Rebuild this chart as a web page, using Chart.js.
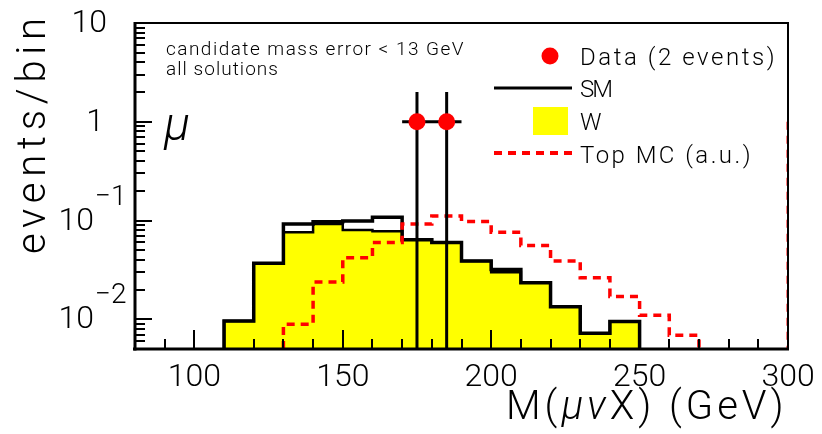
<!DOCTYPE html>
<html>
<head>
<meta charset="utf-8">
<script src="https://cdn.jsdelivr.net/npm/chart.js@4.4.1/dist/chart.umd.min.js"></script>
<style>
    body { margin: 0; background: #fff; }
    #wrap { width: 822px; height: 434px; }
</style>
</head>
<body>
<div id="wrap"><canvas id="massChart" width="822" height="434"></canvas></div>
<script>
// histogram bins (lower edges, 10 GeV wide)
const binWidth = 10;
const smBinLow = [110, 120, 130, 140, 150, 160, 170, 180, 190, 200, 210, 220, 230, 240];
const smValues = [0.0096, 0.037, 0.092, 0.097, 0.099, 0.108, 0.064, 0.060, 0.039, 0.032, 0.0235, 0.0134, 0.0072, 0.0095];
const wValues  = [0.0096, 0.037, 0.076, 0.092, 0.080, 0.078, 0.064, 0.060, 0.039, 0.030, 0.0235, 0.0134, 0.0072, 0.0095];

const topBinLow = [130, 140, 150, 160, 170, 180, 190, 200, 210, 220, 230, 240, 250, 260];
const topValues = [0.0089, 0.0238, 0.042, 0.060, 0.092, 0.111, 0.098, 0.076, 0.056, 0.039, 0.0264, 0.017, 0.011, 0.0069];
const topEdge = [{x: 300, y: 1}, {x: 300, y: 0.005}];

// data: 2 events
const dataMass = [175, 185];
const dataCounts = [1, 1];
const dataErrUp = [2.0, 2.0];

const xMin = 80, xMax = 300;
const yMin = 0.005, yMax = 10;
const xTickLabels = [100, 150, 200, 250, 300];
const yTickExponents = [1, 0, -1, -2];

const FONT = 'Roboto, Lato, sans-serif';
const INK = '#000';

function histSteps(lows, vals) {
    const pts = [{x: lows[0], y: yMin}];
    lows.forEach((x, i) => pts.push({x: x, y: vals[i]}));
    pts.push({x: lows[lows.length - 1] + binWidth, y: yMin});
    return pts;
}

// error bars as broken line segments
const errPts = [];
dataMass.forEach((m, i) => {
    errPts.push({x: m, y: yMin}, {x: m, y: dataErrUp[i]}, {x: m, y: null});
    errPts.push({x: m - binWidth / 2, y: dataCounts[i]}, {x: m + binWidth / 2, y: dataCounts[i]}, {x: m, y: null});
});

function fitText(ctx, text, x, y, width, align) {
    ctx.letterSpacing = '0px';
    const w0 = ctx.measureText(text).width;
    const sp = (width - w0) / text.length;
    ctx.letterSpacing = sp + 'px';
    ctx.textAlign = 'left';
    const w = ctx.measureText(text).width - sp;
    const x0 = align === 'right' ? x - w : (align === 'center' ? x - w / 2 : x);
    ctx.fillText(text, x0, y);
    ctx.letterSpacing = '0px';
}

// runs of [text, fontString], spread to a given width
function fitRuns(ctx, runs, x, y, width, align) {
    let w0 = 0, n = 0;
    runs.forEach(r => { ctx.font = r[1]; w0 += ctx.measureText(r[0]).width; n += r[0].length; });
    const sp = (width - w0) / (n - 1);
    let cx = align === 'right' ? x - width : x;
    ctx.textAlign = 'left';
    runs.forEach(r => {
        ctx.font = r[1];
        for (const ch of r[0]) {
            ctx.fillText(ch, cx, y);
            cx += ctx.measureText(ch).width + sp;
        }
    });
}

const frameAndText = {
    id: 'frameAndText',
    afterDraw(chart) {
        const {ctx, chartArea: a, scales} = chart;
        const xs = scales.x, ys = scales.y;
        ctx.save();
        ctx.setLineDash([]);
        ctx.fillStyle = '#000';

        // frame
        ctx.fillRect(a.left, a.top - 1, a.right - a.left, 2);
        ctx.fillRect(a.right - 1, a.top - 1, 2, a.bottom - a.top + 1);
        ctx.fillRect(a.left - 2, a.bottom - 1.5, a.right - a.left + 3, 3);
        ctx.fillRect(a.left - 1.5, a.top - 1, 3, a.bottom - a.top + 2.5);

        // x ticks (inside)
        for (let v = xMin + 10; v < xMax; v += 10) {
            const px = Math.round(xs.getPixelForValue(v));
            const len = v % 50 === 0 ? 19 : 10;
            ctx.fillRect(px - 1, a.bottom - len, 2, len);
        }
        // y ticks (inside)
        for (let e = -3; e <= 1; e++) {
            for (let m = 1; m <= 9; m++) {
                const v = m * Math.pow(10, e);
                if (v <= yMin * 1.001 || v > yMax * 1.001) continue;
                const py = Math.round(ys.getPixelForValue(v));
                ctx.fillRect(a.left, py - 1, m === 1 ? 17 : 10, 2);
            }
        }

        ctx.fillStyle = INK;
        // x tick labels
        ctx.font = '300 32px ' + FONT;
        ctx.textAlign = 'center';
        ctx.textBaseline = 'alphabetic';
        xTickLabels.forEach(v => ctx.fillText(String(v), xs.getPixelForValue(v), 386));

        // y tick labels
        yTickExponents.forEach(e => {
            const py = ys.getPixelForValue(Math.pow(10, e));
            ctx.font = '300 32px ' + FONT;
            ctx.textBaseline = 'middle';
            ctx.textAlign = 'right';
            if (e === 1) ctx.fillText('10', 107, py + 1);
            else if (e === 0) ctx.fillText('1', 104, py + 1);
            else {
                ctx.fillText('10', 94, py + 1);
                ctx.font = '300 28px ' + FONT;
                ctx.textAlign = 'left';
                ctx.textBaseline = 'alphabetic';
                ctx.fillText('\u2212' + Math.abs(e), 95, py - 16);
            }
        });

        // axis titles
        ctx.textBaseline = 'alphabetic';
        const up = '300 40px ' + FONT, it = 'italic 300 40px ' + FONT;
        fitRuns(ctx, [['M(', up], ['\u03bc\u03bd', it], ['X) (GeV)', up]], 784, 419, 278, 'right');
        ctx.save();
        ctx.translate(45, 136);
        ctx.rotate(-Math.PI / 2);
        ctx.font = '300 40px ' + FONT;
        fitText(ctx, 'events/bin', 0, 0, 242, 'center');
        ctx.restore();

        // selection text
        ctx.font = '300 19px ' + FONT;
        fitText(ctx, 'candidate mass error < 13 GeV', 166, 55, 299, 'left');
        fitText(ctx, 'all solutions', 166, 75, 113, 'left');
        ctx.font = 'italic 300 48px ' + FONT;
        ctx.textAlign = 'left';
        ctx.fillText('\u03bc', 164, 140);

        // legend
        ctx.fillStyle = '#ff0000';
        ctx.beginPath(); ctx.arc(550, 56, 8.5, 0, Math.PI * 2); ctx.fill();
        ctx.fillStyle = '#000';
        ctx.fillRect(494, 86.5, 78, 3);
        ctx.fillStyle = '#ffff00';
        ctx.fillRect(533, 107, 35, 28);
        ctx.fillStyle = '#ff0000';
        for (let dx = 494; dx < 572; dx += 14) ctx.fillRect(dx, 151, Math.min(8, 572 - dx), 4);
        ctx.fillStyle = INK;
        ctx.font = '300 24px ' + FONT;
        fitText(ctx, 'Data (2 events)', 580, 65, 197, 'left');
        fitText(ctx, 'SM', 580, 97, 31, 'left');
        fitText(ctx, 'W', 580, 130, 22, 'left');
        fitText(ctx, 'Top MC (a.u.)', 580, 163, 173, 'left');

        ctx.restore();
    }
};

new Chart(document.getElementById('massChart'), {
    type: 'line',
    data: {
        datasets: [
            {
                label: 'Data (2 events)',
                data: dataMass.map((m, i) => ({x: m, y: dataCounts[i]})),
                showLine: false,
                pointRadius: 8.5,
                pointBackgroundColor: '#ff0000',
                pointBorderWidth: 0,
                clip: false
            },
            {
                label: 'errors',
                data: errPts,
                borderColor: '#000',
                borderWidth: 3,
                pointRadius: 0,
                spanGaps: false,
                fill: false
            },
            {
                label: 'Top MC (a.u.)',
                data: histSteps(topBinLow, topValues),
                stepped: 'before',
                borderColor: '#ff0000',
                borderWidth: 3.5,
                borderDash: [8, 6],
                pointRadius: 0,
                fill: false
            },
            {
                label: 'Top edge',
                data: topEdge,
                borderColor: '#ff0000',
                borderWidth: 3,
                borderDash: [8, 6],
                pointRadius: 0,
                fill: false
            },
            {
                label: 'SM',
                data: histSteps(smBinLow, smValues),
                stepped: 'before',
                borderColor: '#000',
                borderWidth: 3.5,
                pointRadius: 0,
                fill: false
            },
            {
                label: 'W',
                data: histSteps(smBinLow, wValues),
                stepped: 'before',
                borderColor: '#000',
                borderWidth: 2.5,
                backgroundColor: '#ffff00',
                pointRadius: 0,
                fill: 'start'
            }
        ]
    },
    options: {
        responsive: false,
        devicePixelRatio: 1,
        animation: false,
        layout: {padding: {left: 135, top: 23, right: 34, bottom: 85}},
        scales: {
            x: {type: 'linear', min: xMin, max: xMax, display: false},
            y: {type: 'logarithmic', min: yMin, max: yMax, display: false}
        },
        plugins: {
            legend: {display: false},
            tooltip: {enabled: false}
        }
    },
    plugins: [frameAndText]
});
</script>
</body>
</html>
